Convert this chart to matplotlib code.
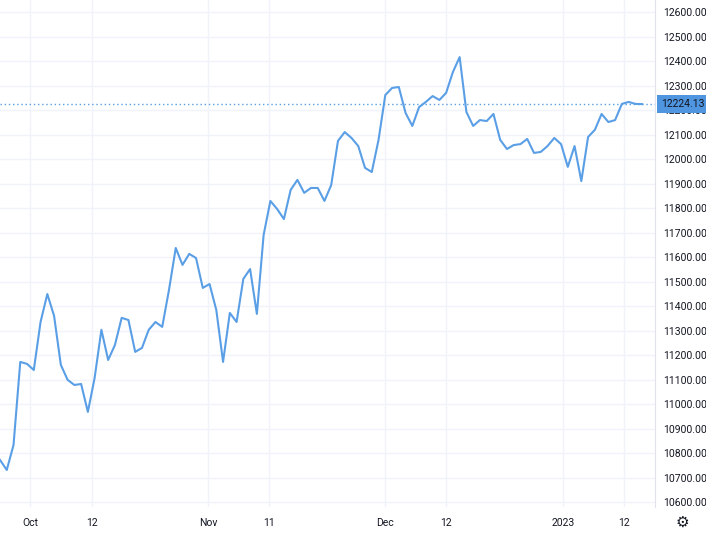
import matplotlib
matplotlib.use("Agg")
import matplotlib.pyplot as plt
import numpy as np

plt.rcParams['font.family'] = ['Roboto', 'DejaVu Sans']

values = [10772,10731,10833,11172,11164,11139,11335,11449,11360,11160,11099,11078,11082,10968,
          11107,11303,11180,11241,11352,11343,11213,11229,11303,11335,11315,11466,11637,11568,
          11613,11596,11474,11490,11384,11172,11372,11335,11511,11551,11368,11690,11829,11796,
          11755,11874,11915,11862,11882,11882,11829,11894,12074,12110,12086,12053,11964,11947,
          12078,12261,12290,12294,12188,12135,12212,12233,12257,12241,12270,12355,12416,12192,
          12135,12159,12155,12184,12078,12041,12057,12061,12082,12025,12029,12053,12086,12061,
          11968,12053,11910,12090,12119,12184,12151,12159,12225,12233,12225,12224.13]
tick_pos = [4.44, 13.6, 30.8, 39.8, 57.0, 66.0, 83.3, 92.3]
tick_labels = ["Oct", "12", "Nov", "11", "Dec", "12", "2023", "12"]
y_ticks = list(range(10600, 12601, 100))
last_price = 12224.13

W, H = 706, 534
fig = plt.figure(figsize=(W/100, H/100), dpi=100)
ax = fig.add_axes([0, 27/H, 655/W, 1-27/H])
line_color = "#5a9fe6"
grid_color = "#f0f3fa"
x = np.arange(len(values))
ax.plot(x, values, color=line_color, lw=1.5, zorder=3)
ax.set_xlim(0, 96.9)
ax.set_ylim(10580, 12649)
ax.set_xticks(tick_pos)
ax.set_xticklabels(tick_labels)
ax.set_yticks(y_ticks)
ax.set_yticklabels([f"{v:.2f}" for v in y_ticks])
ax.yaxis.tick_right()
ax.grid(True, color=grid_color, lw=1)
for s in ["top", "left", "bottom"]:
    ax.spines[s].set_visible(False)
ax.spines["right"].set_color("#e0e3eb")
ax.tick_params(length=0, colors="#131722", labelsize=7.5)
ax.tick_params(axis="y", pad=6)
ax.tick_params(axis="x", pad=8)
ax.axhline(last_price, color=line_color, lw=1, ls=(0, (1, 2)), zorder=2)
ax.annotate(f"{last_price:.2f}", xy=(1, last_price), xycoords=("axes fraction", "data"),
            xytext=(4.5, 0), textcoords="offset points", va="center", ha="left",
            fontsize=7.5, color="#131722", zorder=10, annotation_clip=False,
            bbox=dict(boxstyle="square,pad=0.4", fc="#4f95e0", ec="none"))
fig.text(682/W, 12/H, "⚙", ha="center", va="center", fontsize=11, color="#131722",
         family="DejaVu Sans")
fig.savefig("out.png", dpi=100, facecolor="white")
